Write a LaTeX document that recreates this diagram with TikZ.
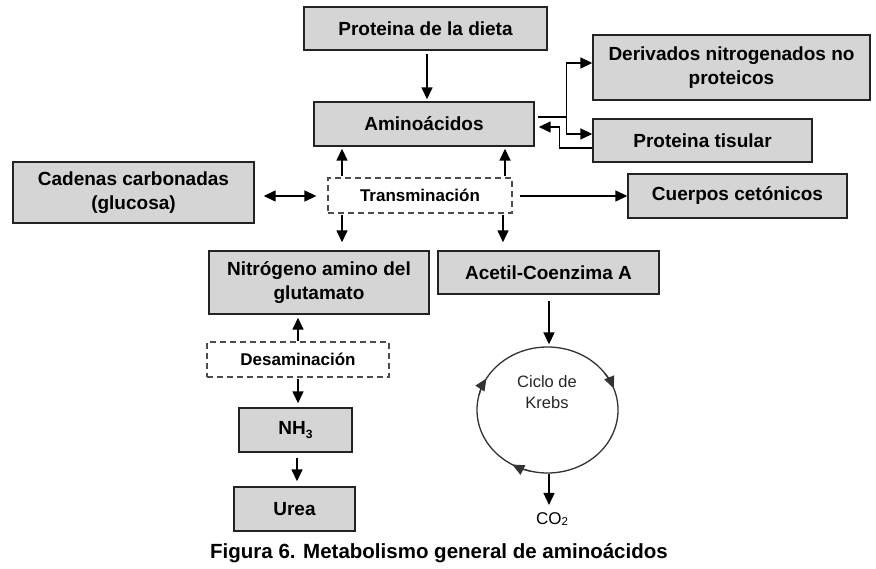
\documentclass[tikz,border=0pt]{standalone}
\usepackage{fontspec}
\setmainfont{Liberation Sans}
\usetikzlibrary{arrows.meta,shapes.geometric,calc}
\definecolor{boxfill}{RGB}{213,213,213}
\definecolor{boxline}{RGB}{35,35,35}
\tikzset{tip/.tip={Triangle[length=12pt,width=11pt]},ctip/.tip={Triangle[length=12pt,width=10.5pt]}}
\begin{document}
\begin{tikzpicture}[x=1pt,y=1pt,
 box/.style={draw=boxline,line width=1.4pt,fill=boxfill,inner sep=0pt,align=center,font=\bfseries\fontsize{19}{24.5}\selectfont},
 dbox/.style={draw=black!70,dash pattern=on 6pt off 4pt,line width=1.3pt,fill=white,inner sep=0pt,font=\bfseries\fontsize{17}{20}\selectfont},
 arr/.style={line width=1.5pt,-tip},
 darr/.style={line width=1.5pt,tip-tip},
 ln/.style={line width=1.5pt},
 carr/.style={line width=1.3pt,draw=black!80,-ctip}
]
\useasboundingbox (0,0) rectangle (876,569);
\fill[white] (0,0) rectangle (876,569);

\node[box,minimum width=243pt,minimum height=43pt] (diet) at (425.5,540.5) {Proteina de la dieta};
\node[box,minimum width=220pt,minimum height=44pt] (amino) at (424,445) {Aminoácidos};
\node[box,minimum width=277pt,minimum height=65pt] (deriv) at (731.5,501.5) {Derivados nitrogenados no\\proteicos};
\node[box,minimum width=219pt,minimum height=43pt] (tisular) at (702.5,428.5) {Proteina tisular};
\node[box,minimum width=219pt,minimum height=44pt] (cuerpos) at (737.5,373) {Cuerpos cetónicos};
\node[dbox,minimum width=184pt,minimum height=35pt] (trans) at (420,373.5) {Transminación};
\node[box,minimum width=241pt,minimum height=61pt] (cadenas) at (133.5,376.5) {Cadenas carbonadas\\(glucosa)};
\node[box,minimum width=220pt,minimum height=63pt] (nitro) at (319,286.5) {Nitrógeno amino del\\glutamato};
\node[box,minimum width=221pt,minimum height=43pt] (acetil) at (548.5,296.5) {Acetil-Coenzima A};
\node[dbox,minimum width=182pt,minimum height=35pt] (desam) at (298,209.5) {Desaminación};
\node[box,minimum width=113pt,minimum height=44pt] (nh3) at (295.5,139) {NH\raisebox{-0.4ex}{\fontsize{12}{12}\selectfont 3}};
\node[box,minimum width=121pt,minimum height=44pt] (urea) at (294.5,60) {Urea};

\node[draw=black!80,line width=1.3pt,ellipse,minimum width=141pt,minimum height=126pt,inner sep=0pt] (krebs) at (547.5,159) {};
\node[align=center,inner sep=0pt,font=\fontsize{16.5}{21}\selectfont,text=black!85] (krebslbl) at (547,176.5) {Ciclo de\\Krebs};
\node[inner sep=0pt,font=\fontsize{17}{17}\selectfont] (co2) at (552,50) {CO\raisebox{-0.2ex}{\fontsize{11.5}{11.5}\selectfont 2}};

\node[inner sep=0pt,font=\bfseries\fontsize{20.5}{22}\selectfont] (caption) at (439,16) {Figura 6. Metabolismo general de aminoácidos};

% arrows
\draw[arr,shorten <=3pt,shorten >=2pt] ([xshift=1.5pt]diet.south) -- ([xshift=3pt]amino.north);
\draw[arr,shorten <=1pt,shorten >=2pt] ([xshift=-78pt]trans.north) -- ([xshift=-82pt]amino.south);
\draw[arr,shorten <=1pt,shorten >=2pt] ([xshift=85pt]trans.north) -- ([xshift=81pt]amino.south);
\draw[arr,shorten <=1pt,shorten >=8pt] ([xshift=-78pt]trans.south) -- ([xshift=23pt]nitro.north);
\draw[arr,shorten <=1pt,shorten >=8pt] ([xshift=83pt]trans.south) -- ([xshift=-45.5pt]acetil.north);
\draw[darr] ([xshift=9pt,yshift=-3.5pt]cadenas.east) -- ([xshift=-11pt,yshift=-0.5pt]trans.west);
\draw[arr] ([xshift=7pt,yshift=-0.5pt]trans.east) -- (cuerpos.west);

\draw[ln] ([xshift=3pt,yshift=7pt]amino.east) -- ++(29pt,0) coordinate (fork);
\draw[arr] (fork) |- ([yshift=4.5pt]deriv.west);
\draw[arr] (fork) |- ([yshift=6.5pt]tisular.west);
\draw[arr] ([yshift=-7.5pt]tisular.west) -- ++(-33pt,0) |- ([xshift=4pt,yshift=-3pt]amino.east);

\draw[arr,shorten >=3pt] (desam.north) -- (desam.north |- nitro.south);
\draw[arr,shorten <=1pt,shorten >=4pt] (desam.south) -- (desam.south |- nh3.north);
\draw[arr,shorten <=5pt,shorten >=5pt] ([xshift=1.5pt]nh3.south) -- ([xshift=1.5pt]nh3.south |- urea.north);

\draw[arr,shorten <=6pt,shorten >=2pt] ([xshift=0.5pt]acetil.south) -- ([xshift=1.5pt]krebs.north);
\draw[arr,shorten >=7pt] ([xshift=1.5pt]krebs.south) -- ([xshift=1.5pt]krebs.south |- co2.north);

% arrowheads on the cycle (clockwise)
\draw[carr] ($(krebs.center)+({70.5*cos(166)},{63*sin(166)})$) arc[start angle=166,end angle=150,x radius=70.5pt,y radius=63pt];
\draw[carr] ($(krebs.center)+({70.5*cos(36)},{63*sin(36)})$) arc[start angle=36,end angle=20,x radius=70.5pt,y radius=63pt];
\draw[carr] ($(krebs.center)+({70.5*cos(256)},{63*sin(256)})$) arc[start angle=256,end angle=240,x radius=70.5pt,y radius=63pt];
\end{tikzpicture}
\end{document}
